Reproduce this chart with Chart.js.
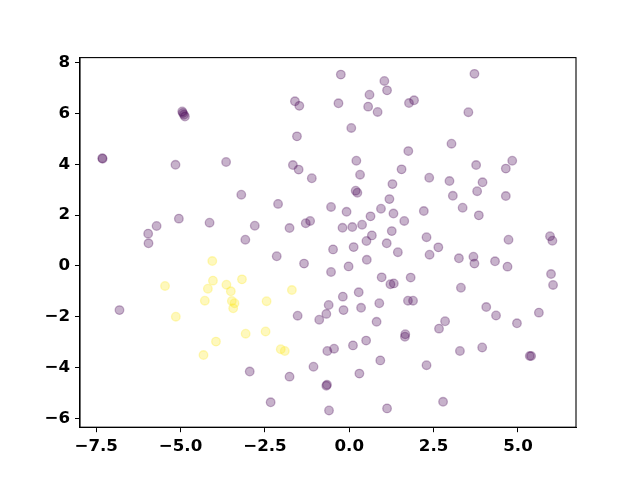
<!DOCTYPE html>
<html>
<head>
<meta charset="utf-8">
<script src="https://cdn.jsdelivr.net/npm/chart.js@4/dist/chart.umd.min.js"></script>
<style>
html,body{margin:0;padding:0;background:#fff;}
#c{display:block;}
</style>
</head>
<body>
<canvas id="c" width="640" height="480"></canvas>
<script>
const purpleX = [-4.95,-4.93,-4.90,-4.87,-7.32,-7.31,-5.15,-3.65,-3.20,-5.05,-5.71,-4.14,-5.96,-5.95,-3.08,
  -0.25,1.04,1.12,0.60,-1.61,-1.48,-0.32,0.56,0.84,1.77,1.92,0.06,-1.55,1.75,0.21,-1.67,-1.50,1.55,0.32,-1.11,1.28,0.19,0.24,1.19,
  -2.11,-0.54,-0.08,0.94,1.31,0.63,-2.80,-1.77,-1.29,-1.16,-0.20,0.09,0.38,1.63,1.26,0.67,0.51,1.11,
  3.71,3.53,3.03,4.83,4.64,3.76,2.37,2.97,3.95,3.79,3.07,4.64,3.36,3.84,2.21,2.29,4.72,5.95,6.02,
  -6.81,-2.95,
  -0.48,0.13,1.44,-2.15,-1.34,-0.02,0.52,-0.54,0.96,1.22,1.32,1.82,-0.19,0.28,-0.61,0.89,1.74,1.89,-1.53,-0.68,-0.89,-0.17,0.35,0.81,
  1.66,1.65,-0.65,-0.45,0.11,0.50,0.92,-1.06,-1.77,0.30,-0.68,-0.66,-2.33,-0.60,1.12,
  2.64,2.38,3.25,3.68,3.71,4.32,4.69,5.98,6.04,3.31,4.06,4.35,4.97,5.62,2.84,2.66,3.28,3.94,5.35,5.39,2.29,2.78];
const purpleY = [6.08,6.02,5.95,5.88,4.24,4.22,3.98,4.09,2.80,1.86,1.57,1.70,1.27,0.89,1.03,
  7.53,7.28,6.91,6.74,6.48,6.30,6.40,6.27,6.06,6.41,6.52,5.43,5.10,4.52,4.14,3.97,3.79,3.80,3.59,3.45,3.22,2.96,2.88,2.63,
  2.44,2.32,2.13,2.25,2.06,1.95,1.58,1.49,1.68,1.77,1.50,1.53,1.62,1.77,1.37,1.20,0.98,0.89,
  7.56,6.05,4.81,4.14,3.83,3.97,3.47,3.34,3.29,2.94,2.76,2.75,2.29,1.99,2.16,1.13,1.03,1.17,0.99,
  -1.74,-4.16,
  0.65,0.74,0.54,0.38,0.09,-0.02,0.24,-0.24,-0.45,-0.72,-0.69,-0.46,-1.21,-1.04,-1.54,-1.47,-1.37,-1.37,-1.96,-1.89,-2.12,-1.74,-1.65,-2.20,
  -2.69,-2.79,-3.35,-3.26,-3.13,-2.94,-3.72,-3.97,-4.36,-4.24,-4.72,-4.68,-5.37,-5.69,-5.61,
  0.73,0.44,0.30,0.36,0.09,0.18,-0.03,-0.32,-0.75,-0.86,-1.62,-1.95,-2.26,-1.84,-2.18,-2.47,-3.35,-3.21,-3.55,-3.55,-3.91,-5.35];
const yellowX = [-4.06,-5.46,-4.04,-4.19,-3.64,-3.51,-3.18,-4.28,-3.48,-3.40,-3.44,-5.14,-3.07,-3.95,-4.32,-1.70,-2.45,-2.48,-2.03,-1.91];
const yellowY = [0.19,-0.79,-0.58,-0.90,-0.74,-1.00,-0.53,-1.37,-1.38,-1.47,-1.67,-2.00,-2.67,-2.98,-3.51,-0.95,-1.39,-2.58,-3.28,-3.35];
const xTicks = [-7.5,-5.0,-2.5,0.0,2.5,5.0];
const yTicks = [-6,-4,-2,0,2,4,6,8];

const toPts = (xs, ys) => xs.map((x, i) => ({x: x, y: ys[i]}));
const fmt = (v, d) => (v < 0 ? '\u2212' : '') + Math.abs(v).toFixed(d);

const boxPlugin = {
  id: 'box',
  afterDatasetsDraw(chart) {
    const a = chart.chartArea, c = chart.ctx;
    c.save();
    c.strokeStyle = '#000';
    c.lineWidth = 1.1;
    c.strokeRect(a.left, a.top, a.right - a.left, a.bottom - a.top);
    c.restore();
  }
};

const tickFont = {family: '"DejaVu Sans"', size: 16.67, weight: 'bold'};

new Chart(document.getElementById('c'), {
  type: 'scatter',
  data: {
    datasets: [
      {data: toPts(purpleX, purpleY), backgroundColor: 'rgba(68,1,84,0.3)', borderColor: 'rgba(68,1,84,0.3)', borderWidth: 1.3, pointRadius: 4.3},
      {data: toPts(yellowX, yellowY), backgroundColor: 'rgba(253,231,37,0.3)', borderColor: 'rgba(253,231,37,0.3)', borderWidth: 1.3, pointRadius: 4.3}
    ]
  },
  options: {
    responsive: false,
    animation: false,
    devicePixelRatio: 1,
    layout: {padding: {top: 57.6, right: 64, left: 0, bottom: 0}},
    plugins: {legend: {display: false}, tooltip: {enabled: false}},
    scales: {
      x: {
        type: 'linear', min: -7.98, max: 6.72,
        afterBuildTicks: s => { s.ticks = xTicks.map(v => ({value: v})); },
        afterFit: s => { s.height = 52.8; },
        grid: {drawOnChartArea: false, drawTicks: true, tickLength: 5, color: '#000', tickColor: '#000'},
        border: {display: true, color: '#000', width: 1.1},
        ticks: {autoSkip: false, maxRotation: 0, padding: 4, color: '#000', font: tickFont, callback: v => fmt(v, 1)}
      },
      y: {
        type: 'linear', min: -6.35, max: 8.2,
        afterBuildTicks: s => { s.ticks = yTicks.map(v => ({value: v})); },
        afterFit: s => { s.width = 80; },
        grid: {drawOnChartArea: false, drawTicks: true, tickLength: 5, color: '#000', tickColor: '#000'},
        border: {display: true, color: '#000', width: 1.1},
        ticks: {autoSkip: false, padding: 5, color: '#000', font: tickFont, callback: v => fmt(v, 0)}
      }
    }
  },
  plugins: [boxPlugin]
});
</script>
</body>
</html>
